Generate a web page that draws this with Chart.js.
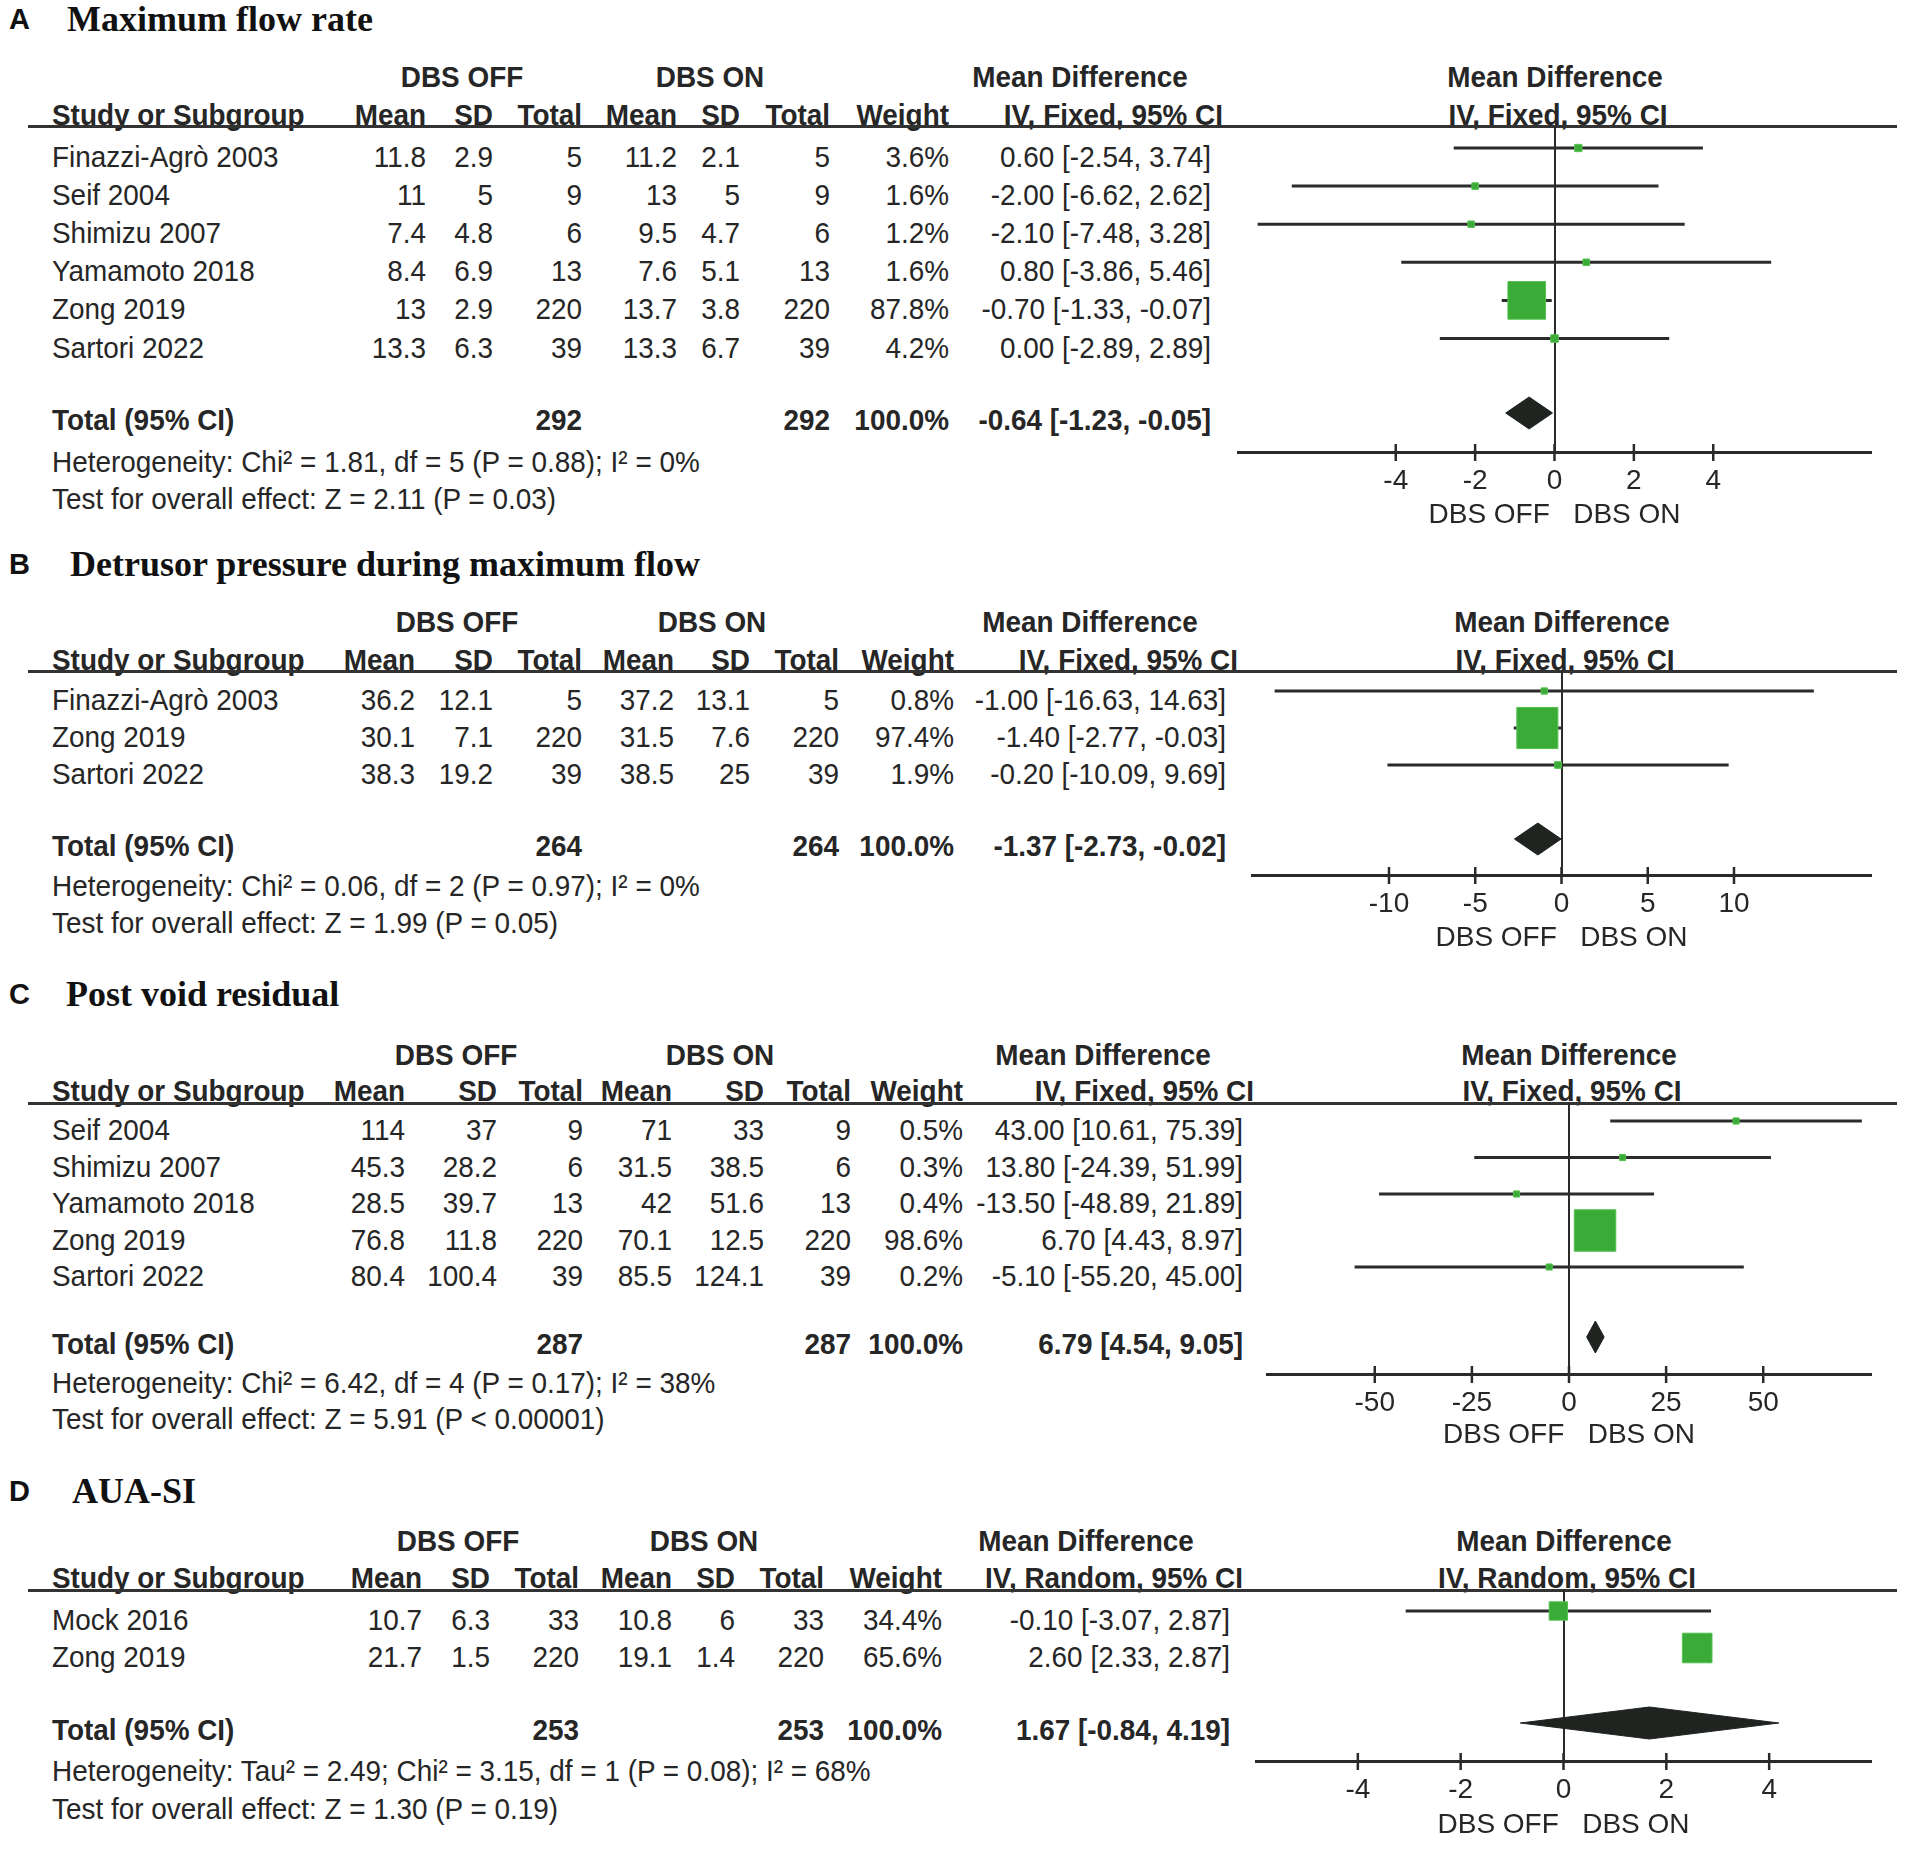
<!DOCTYPE html>
<html>
<head>
<meta charset="utf-8">
<script src="https://cdn.jsdelivr.net/npm/chart.js@4.4.0/dist/chart.umd.min.js"></script>
<style>
  body { margin: 0; background: #fff; width: 1905px; height: 1855px; position: relative; overflow: hidden;
         font-family: "Liberation Sans", Arial, sans-serif; color: #262626; }
  .t { position: absolute; white-space: pre; font-size: 30px; line-height: 1; }
  .b { font-weight: bold; }
  .letter { font-weight: bold; font-size: 29px; color: #111; }
  .title { font-family: "Liberation Serif", "Times New Roman", serif; font-weight: bold; font-size: 36px; color: #111; }
  .rule { position: absolute; height: 3px; background: #333; }
  canvas { position: absolute; }
</style>
</head>
<body>
<script>
// ---- A: maximum flow rate ----
var studiesA = ["Finazzi-Agrò 2003", "Seif 2004", "Shimizu 2007", "Yamamoto 2018", "Zong 2019", "Sartori 2022"];
var offMeanA = [11.8, 11, 7.4, 8.4, 13, 13.3];
var offSdA = [2.9, 5, 4.8, 6.9, 2.9, 6.3];
var offNA = [5, 9, 6, 13, 220, 39];
var onMeanA = [11.2, 13, 9.5, 7.6, 13.7, 13.3];
var onSdA = [2.1, 5, 4.7, 5.1, 3.8, 6.7];
var onNA = [5, 9, 6, 13, 220, 39];
var weightA = [3.6, 1.6, 1.2, 1.6, 87.8, 4.2];
var mdA = [0.60, -2.00, -2.10, 0.80, -0.70, 0.00];
var loA = [-2.54, -6.62, -7.48, -3.86, -1.33, -2.89];
var hiA = [3.74, 2.62, 3.28, 5.46, -0.07, 2.89];
var totalNA = [292, 292];
var pooledA = [-0.64, -1.23, -0.05];
var ticksA = [-4, -2, 0, 2, 4];

// ---- B: detrusor pressure ----
var studiesB = ["Finazzi-Agrò 2003", "Zong 2019", "Sartori 2022"];
var offMeanB = [36.2, 30.1, 38.3];
var offSdB = [12.1, 7.1, 19.2];
var offNB = [5, 220, 39];
var onMeanB = [37.2, 31.5, 38.5];
var onSdB = [13.1, 7.6, 25];
var onNB = [5, 220, 39];
var weightB = [0.8, 97.4, 1.9];
var mdB = [-1.00, -1.40, -0.20];
var loB = [-16.63, -2.77, -10.09];
var hiB = [14.63, -0.03, 9.69];
var totalNB = [264, 264];
var pooledB = [-1.37, -2.73, -0.02];
var ticksB = [-10, -5, 0, 5, 10];

// ---- C: post void residual ----
var studiesC = ["Seif 2004", "Shimizu 2007", "Yamamoto 2018", "Zong 2019", "Sartori 2022"];
var offMeanC = [114, 45.3, 28.5, 76.8, 80.4];
var offSdC = [37, 28.2, 39.7, 11.8, 100.4];
var offNC = [9, 6, 13, 220, 39];
var onMeanC = [71, 31.5, 42, 70.1, 85.5];
var onSdC = [33, 38.5, 51.6, 12.5, 124.1];
var onNC = [9, 6, 13, 220, 39];
var weightC = [0.5, 0.3, 0.4, 98.6, 0.2];
var mdC = [43.00, 13.80, -13.50, 6.70, -5.10];
var loC = [10.61, -24.39, -48.89, 4.43, -55.20];
var hiC = [75.39, 51.99, 21.89, 8.97, 45.00];
var totalNC = [287, 287];
var pooledC = [6.79, 4.54, 9.05];
var ticksC = [-50, -25, 0, 25, 50];

// ---- D: AUA-SI ----
var studiesD = ["Mock 2016", "Zong 2019"];
var offMeanD = [10.7, 21.7];
var offSdD = [6.3, 1.5];
var offND = [33, 220];
var onMeanD = [10.8, 19.1];
var onSdD = [6, 1.4];
var onND = [33, 220];
var weightD = [34.4, 65.6];
var mdD = [-0.10, 2.60];
var loD = [-3.07, 2.33];
var hiD = [2.87, 2.87];
var totalND = [253, 253];
var pooledD = [1.67, -0.84, 4.19];
var ticksD = [-4, -2, 0, 2, 4];

var headCols = ["Mean", "SD", "Total", "Mean", "SD", "Total", "Weight"];
var FONT = "'Liberation Sans', Arial, sans-serif";
var INK = '#262626';
var PLOT_RIGHT = 1872;

// page layout of each panel (pixels)
var layoutA = { letterY: 19, titleX: 67, groupY: 77, headY: 115, rule: 126, rowY: 157, step: 38.1, totalY: 420, hetY: 462, testY: 499,
  cols: [426, 493, 582, 677, 740, 830, 949], ciR: 1211, headCiR: 1223, mdC: 1080, offC: 462, onC: 710,
  fLeft: 1237, axisY: 452, dbsY: 515, xLim: 8 };
var layoutB = { letterY: 564, titleX: 70, groupY: 622, headY: 660, rule: 671, rowY: 700, step: 37, totalY: 846, hetY: 886, testY: 923,
  cols: [415, 493, 582, 674, 750, 839, 954], ciR: 1226, headCiR: 1238, mdC: 1090, offC: 457, onC: 712,
  fLeft: 1251, axisY: 875, dbsY: 938, xLim: 18 };
var layoutC = { letterY: 994, titleX: 66, groupY: 1055, headY: 1091, rule: 1103, rowY: 1130, step: 36.5, totalY: 1344, hetY: 1383, testY: 1419,
  cols: [405, 497, 583, 672, 764, 851, 963], ciR: 1243, headCiR: 1254, mdC: 1103, offC: 456, onC: 720,
  fLeft: 1266, axisY: 1374, dbsY: 1435, xLim: 78 };
var layoutD = { letterY: 1491, titleX: 72, groupY: 1541, headY: 1578, rule: 1590, rowY: 1620, step: 37, totalY: 1730, hetY: 1771, testY: 1809,
  cols: [422, 490, 579, 672, 735, 824, 942], ciR: 1230, headCiR: 1243, mdC: 1086, offC: 458, onC: 704,
  fLeft: 1255, axisY: 1761, dbsY: 1825, xLim: 6 };

var panels = [
  { letter: "A", title: "Maximum flow rate", method: "IV, Fixed, 95% CI", studies: studiesA,
    cols: [offMeanA, offSdA, offNA, onMeanA, onSdA, onNA], weight: weightA, md: mdA, lo: loA, hi: hiA,
    totalN: totalNA, pooled: pooledA, ticks: ticksA, L: layoutA,
    het: "Heterogeneity: Chi² = 1.81, df = 5 (P = 0.88); I² = 0%", test: "Test for overall effect: Z = 2.11 (P = 0.03)" },
  { letter: "B", title: "Detrusor pressure during maximum flow", method: "IV, Fixed, 95% CI", studies: studiesB,
    cols: [offMeanB, offSdB, offNB, onMeanB, onSdB, onNB], weight: weightB, md: mdB, lo: loB, hi: hiB,
    totalN: totalNB, pooled: pooledB, ticks: ticksB, L: layoutB,
    het: "Heterogeneity: Chi² = 0.06, df = 2 (P = 0.97); I² = 0%", test: "Test for overall effect: Z = 1.99 (P = 0.05)" },
  { letter: "C", title: "Post void residual", method: "IV, Fixed, 95% CI", studies: studiesC,
    cols: [offMeanC, offSdC, offNC, onMeanC, onSdC, onNC], weight: weightC, md: mdC, lo: loC, hi: hiC,
    totalN: totalNC, pooled: pooledC, ticks: ticksC, L: layoutC,
    het: "Heterogeneity: Chi² = 6.42, df = 4 (P = 0.17); I² = 38%", test: "Test for overall effect: Z = 5.91 (P < 0.00001)" },
  { letter: "D", title: "AUA-SI", method: "IV, Random, 95% CI", studies: studiesD,
    cols: [offMeanD, offSdD, offND, onMeanD, onSdD, onND], weight: weightD, md: mdD, lo: loD, hi: hiD,
    totalN: totalND, pooled: pooledD, ticks: ticksD, L: layoutD,
    het: "Heterogeneity: Tau² = 2.49; Chi² = 3.15, df = 1 (P = 0.08); I² = 68%", test: "Test for overall effect: Z = 1.30 (P = 0.19)" }
];

// place a text at (x, y); y is the vertical centre
function put(x, y, s, align, cls) {
  var d = document.createElement('div');
  d.className = 't ' + (cls || '');
  d.textContent = s;
  d.style.left = x + 'px';
  d.style.top = y + 'px';
  var tx = align === 'r' ? '-100%' : (align === 'c' ? '-50%' : '0');
  d.style.transformOrigin = align === 'r' ? '100% 50%' : (align === 'c' ? '50% 50%' : '0 50%');
  var sx = (cls === 'title' || cls === 'letter') ? 1 : 0.93;
  d.style.transform = 'translate(' + tx + ',-50%) scaleX(' + sx + ')';
  document.body.appendChild(d);
}

function ciText(m, l, h) {
  return m.toFixed(2) + " [" + l.toFixed(2) + ", " + h.toFixed(2) + "]";
}

// tick marks that cross the axis line
var crossTicks = {
  id: 'crossTicks',
  afterDraw: function(chart) {
    var sx = chart.scales.x, ctx = chart.ctx, yb = chart.chartArea.bottom;
    ctx.save();
    ctx.strokeStyle = '#2a2a2a';
    ctx.lineWidth = 2.5;
    sx.ticks.forEach(function(t) {
      var px = sx.getPixelForValue(t.value);
      ctx.beginPath();
      ctx.moveTo(px, yb - 8);
      ctx.lineTo(px, yb + 9);
      ctx.stroke();
    });
    ctx.restore();
  }
};

panels.forEach(function(p) {
  var L = p.L;
  put(9, L.letterY, p.letter, 'l', 'letter');
  put(L.titleX, L.letterY, p.title, 'l', 'title');

  var fc = (L.fLeft + PLOT_RIGHT) / 2;
  put(L.offC, L.groupY, "DBS OFF", 'c', 'b');
  put(L.onC, L.groupY, "DBS ON", 'c', 'b');
  put(L.mdC, L.groupY, "Mean Difference", 'c', 'b');
  put(fc, L.groupY, "Mean Difference", 'c', 'b');

  put(52, L.headY, "Study or Subgroup", 'l', 'b');
  headCols.forEach(function(h, j) { put(L.cols[j], L.headY, h, 'r', 'b'); });
  put(L.headCiR, L.headY, p.method, 'r', 'b');
  put(fc + 3, L.headY, p.method, 'c', 'b');

  var r = document.createElement('div');
  r.className = 'rule';
  r.style.left = '28px';
  r.style.width = (1897 - 28) + 'px';
  r.style.top = (L.rule - 1.5) + 'px';
  document.body.appendChild(r);

  p.studies.forEach(function(s, i) {
    var y = L.rowY + i * L.step;
    put(52, y, s, 'l');
    p.cols.forEach(function(arr, j) { put(L.cols[j], y, String(arr[i]), 'r'); });
    put(L.cols[6], y, p.weight[i].toFixed(1) + "%", 'r');
    put(L.ciR, y, ciText(p.md[i], p.lo[i], p.hi[i]), 'r');
  });

  put(52, L.totalY, "Total (95% CI)", 'l', 'b');
  put(L.cols[2], L.totalY, String(p.totalN[0]), 'r', 'b');
  put(L.cols[5], L.totalY, String(p.totalN[1]), 'r', 'b');
  put(L.cols[6], L.totalY, "100.0%", 'r', 'b');
  put(L.ciR, L.totalY, ciText(p.pooled[0], p.pooled[1], p.pooled[2]), 'r', 'b');
  put(52, L.hetY, p.het, 'l');
  put(52, L.testY, p.test, 'l');

  // ---- forest plot ----
  var top = L.rule;
  var H = Math.round(L.dbsY + 17 - top);
  var W = PLOT_RIGHT - L.fLeft;
  var bottomH = H - (L.axisY - top);
  var mark0 = L.rowY - 9;                       // marker row 0 sits a little above its text
  var yMin = (top - mark0) / L.step;
  var yMax = (L.axisY - mark0) / L.step;
  var yTot = (L.totalY - 7 - mark0) / L.step;
  var dh = 16 / L.step;

  var cv = document.createElement('canvas');
  cv.width = W; cv.height = H;
  cv.style.left = L.fLeft + 'px';
  cv.style.top = top + 'px';
  document.body.appendChild(cv);

  var datasets = [];
  datasets.push({
    label: 'studies', order: 0,
    data: p.md.map(function(m, i) { return { x: m, y: i }; }),
    pointStyle: 'rect',
    pointRadius: p.weight.map(function(w) { return (6 + 0.36 * w) / Math.SQRT2; }),
    pointBackgroundColor: '#3aab37', pointBorderColor: '#55c250', pointBorderWidth: 1
  });
  p.md.forEach(function(m, i) {
    datasets.push({
      label: 'ci' + i, order: 2, showLine: true, pointRadius: 0,
      borderColor: '#2b2b2b', borderWidth: 3,
      data: [{ x: p.lo[i], y: i }, { x: p.hi[i], y: i }]
    });
  });
  datasets.push({
    label: 'pooled', order: 1, showLine: true, pointRadius: 0, fill: 'shape',
    backgroundColor: '#1f2420', borderColor: '#1f2420', borderWidth: 1,
    data: [{ x: p.pooled[1], y: yTot }, { x: p.pooled[0], y: yTot - dh }, { x: p.pooled[2], y: yTot },
           { x: p.pooled[0], y: yTot + dh }, { x: p.pooled[1], y: yTot }]
  });

  new Chart(cv, {
    type: 'scatter',
    data: { datasets: datasets },
    options: {
      responsive: false, animation: false, events: [], devicePixelRatio: 1,
      layout: { padding: 0, autoPadding: false },
      plugins: { legend: { display: false }, tooltip: { enabled: false } },
      scales: {
        x: {
          type: 'linear', min: -L.xLim, max: L.xLim,
          afterBuildTicks: function(s) { s.ticks = p.ticks.map(function(v) { return { value: v }; }); },
          afterFit: function(s) { s.height = bottomH; },
          grid: { drawTicks: false, lineWidth: 2,
                  color: function(c) { return (c.tick && c.tick.value === 0) ? '#2a2a2a' : 'rgba(0,0,0,0)'; } },
          border: { display: true, color: '#2a2a2a', width: 3 },
          ticks: { padding: 12, color: INK, font: { family: FONT, size: 28 }, maxRotation: 0, autoSkip: false,
                   callback: function(v) { return String(v); } },
          title: { display: true, text: 'DBS OFF   DBS ON', color: INK, font: { family: FONT, size: 28 },
                   padding: { top: 0, bottom: 0 } }
        },
        y: { type: 'linear', display: false, reverse: true, min: yMin, max: yMax }
      }
    },
    plugins: [crossTicks]
  });
});
</script>
</body>
</html>
